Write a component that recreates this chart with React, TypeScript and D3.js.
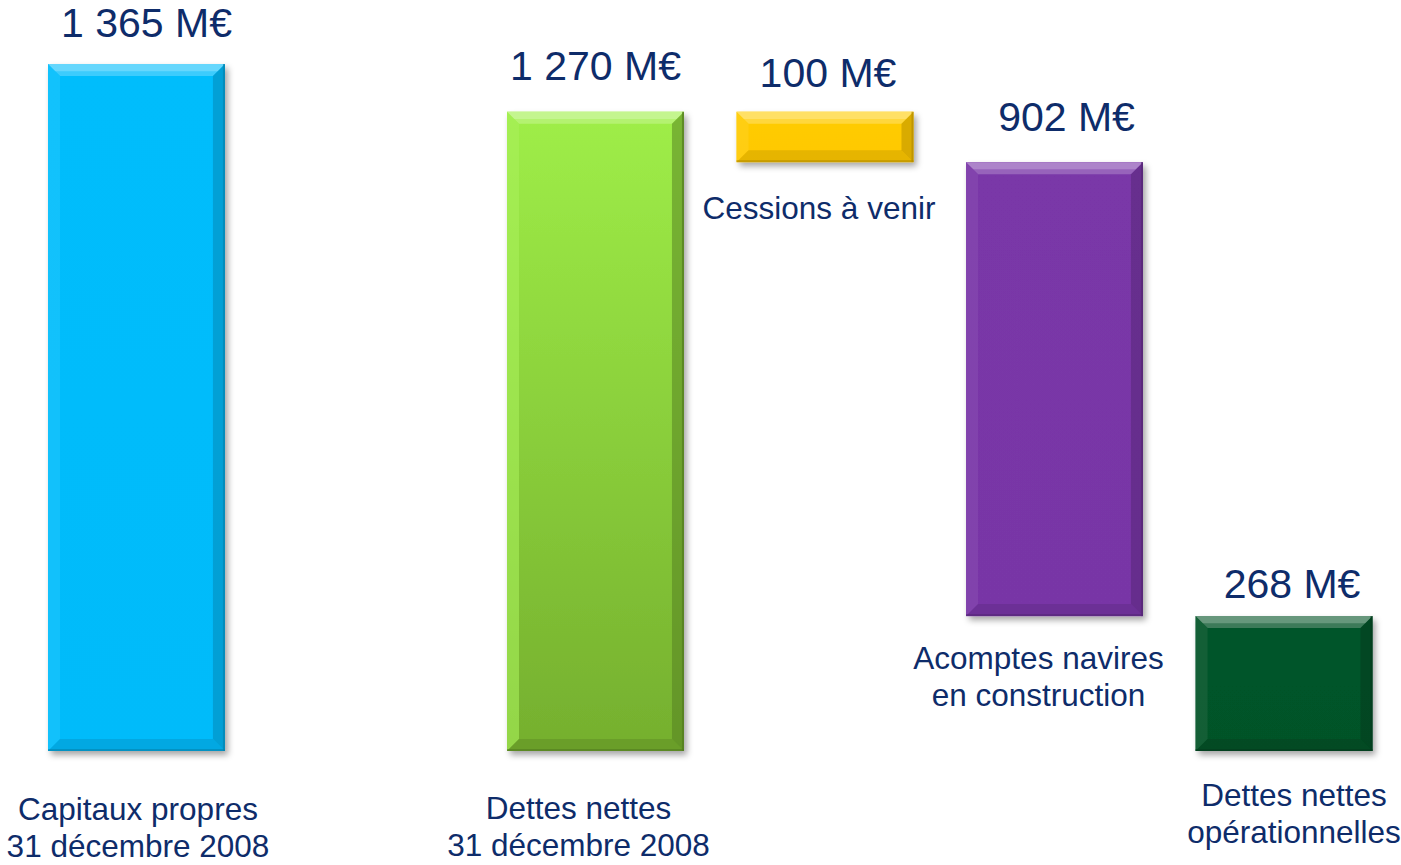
import React from "react";
import * as d3 from "d3";

// ---- Data ----
const categories = [
  "Capitaux propres|31 décembre 2008",
  "",
  "Dettes nettes|31 décembre 2008",
  "Cessions à venir",
  "Acomptes navires|en construction",
  "Dettes nettes|opérationnelles",
];
const barStart = [0, null, 0, 1170, 268, 0];
const barEnd = [1365, null, 1270, 1270, 1170, 268];
const labelValues = [1365, null, 1270, 100, 902, 268];
const barTopColors = ["#05bdfc", null, "#9fee48", "#ffcc05", "#7a37a8", "#06552a"];
const barBottomColors = ["#05bbfa", null, "#75af2e", "#ffc800", "#7836a6", "#065328"];

// ---- Layout ----
const W = 1401;
const H = 865;
const BASE_Y = 751;
const TOP_Y = 64;
const valueDx = [10, 0, 0, 3, 12, 8];
const valueDy = [27, 0, 32, 25, 31, 18];
const catDx = [1.5, 0, -17, -6, -16, 10];
const catDy = [69, 0, 68, 57, 53, 55];
const TEXT = "#0e2c6a";
const FONT = "'Liberation Sans', Arial, Helvetica, sans-serif";

const fmt = (v: number) => {
  const s = String(v);
  return s.replace(/\B(?=(\d{3})+(?!\d))/g, " ") + " M€";
};

export default function App() {
  const x = d3
    .scaleBand<string>()
    .domain(categories.map((_, i) => String(i)))
    .range([48, 1372.5])
    .paddingInner(0.229)
    .paddingOuter(0);
  const y = d3.scaleLinear().domain([0, 1365]).range([BASE_Y, TOP_Y]);
  const bw = x.bandwidth();

  return (
    <svg
      width={W}
      height={H}
      style={{ position: "absolute", left: 0, top: 0, display: "block", background: "#fff" }}
    >
      <defs>
        <filter id="shadow" x="-20%" y="-20%" width="140%" height="140%">
          <feDropShadow dx="3" dy="4" stdDeviation="3" floodColor="#000" floodOpacity="0.35" />
        </filter>
        {categories.map((_, i) =>
          barTopColors[i] ? (
            <linearGradient key={i} id={`g${i}`} x1="0" y1="0" x2="0" y2="1">
              <stop offset="0" stopColor={barTopColors[i] as string} />
              <stop offset="1" stopColor={barBottomColors[i] as string} />
            </linearGradient>
          ) : null
        )}
      </defs>
      {categories.map((c, i) => {
        if (barStart[i] === null) return null;
        const x0 = x(String(i)) as number;
        const y0 = y(barEnd[i] as number);
        const y1 = y(barStart[i] as number);
        const h = y1 - y0;
        const b = Math.min(12, h / 4);
        const top = barTopColors[i] as string;
        const bot = barBottomColors[i] as string;
        const lightTop = d3.interpolateRgb(top, "#ffffff")(0.22);
        const lightTop2 = d3.interpolateRgb(top, "#ffffff")(0.5);
        const leftC = d3.interpolateRgb(top, "#ffffff")(0.1);
        const rightC = d3.interpolateRgb(bot, "#000000")(0.3);
        const botC = d3.interpolateRgb(bot, "#000000")(0.18);
        const x1 = x0 + bw;
        return (
          <g key={i}>
            <rect x={x0} y={y0} width={bw} height={h} fill={`url(#g${i})`} filter="url(#shadow)" />
            {/* top bevel */}
            <polygon
              points={`${x0},${y0} ${x1},${y0} ${x1 - b},${y0 + b} ${x0 + b},${y0 + b}`}
              fill={lightTop}
            />
            <polygon
              points={`${x0},${y0} ${x1},${y0} ${x1 - b * 0.6},${y0 + b * 0.6} ${x0 + b * 0.6},${y0 + b * 0.6}`}
              fill={lightTop2}
              opacity={0.6}
            />
            {/* left bevel */}
            <polygon
              points={`${x0},${y0} ${x0 + b},${y0 + b} ${x0 + b},${y1 - b} ${x0},${y1}`}
              fill={leftC}
              opacity={0.6}
            />
            {/* right bevel */}
            <polygon
              points={`${x1},${y0} ${x1},${y1} ${x1 - b},${y1 - b} ${x1 - b},${y0 + b}`}
              fill={rightC}
              opacity={0.5}
            />
            {/* bottom bevel */}
            <polygon
              points={`${x0},${y1} ${x1},${y1} ${x1 - b},${y1 - b} ${x0 + b},${y1 - b}`}
              fill={botC}
              opacity={0.55}
            />
            <rect x={x1 - 2} y={y0} width={2} height={h} fill={rightC} opacity={0.7} />
            <rect x={x0} y={y1 - 2} width={bw} height={2} fill={rightC} opacity={0.6} />
          </g>
        );
      })}
      {categories.map((c, i) => {
        if (labelValues[i] === null) return null;
        const cx = (x(String(i)) as number) + bw / 2;
        const yTop = y(barEnd[i] as number);
        return (
          <text
            key={`v${i}`}
            x={cx + valueDx[i]}
            y={yTop - valueDy[i]}
            textAnchor="middle"
            fontFamily={FONT}
            fontSize={41}
            fill={TEXT}
          >
            {fmt(labelValues[i] as number)}
          </text>
        );
      })}
      {categories.map((c, i) => {
        if (!c) return null;
        const cx = (x(String(i)) as number) + bw / 2;
        const yBot = y(barStart[i] as number);
        const lines = c.split("|");
        return (
          <text
            key={`c${i}`}
            x={cx + catDx[i]}
            y={yBot + catDy[i]}
            textAnchor="middle"
            fontFamily={FONT}
            fontSize={31.5}
            fill={TEXT}
          >
            {lines.map((l, j) => (
              <tspan key={j} x={cx + catDx[i]} dy={j === 0 ? 0 : 37}>
                {l}
              </tspan>
            ))}
          </text>
        );
      })}
    </svg>
  );
}
